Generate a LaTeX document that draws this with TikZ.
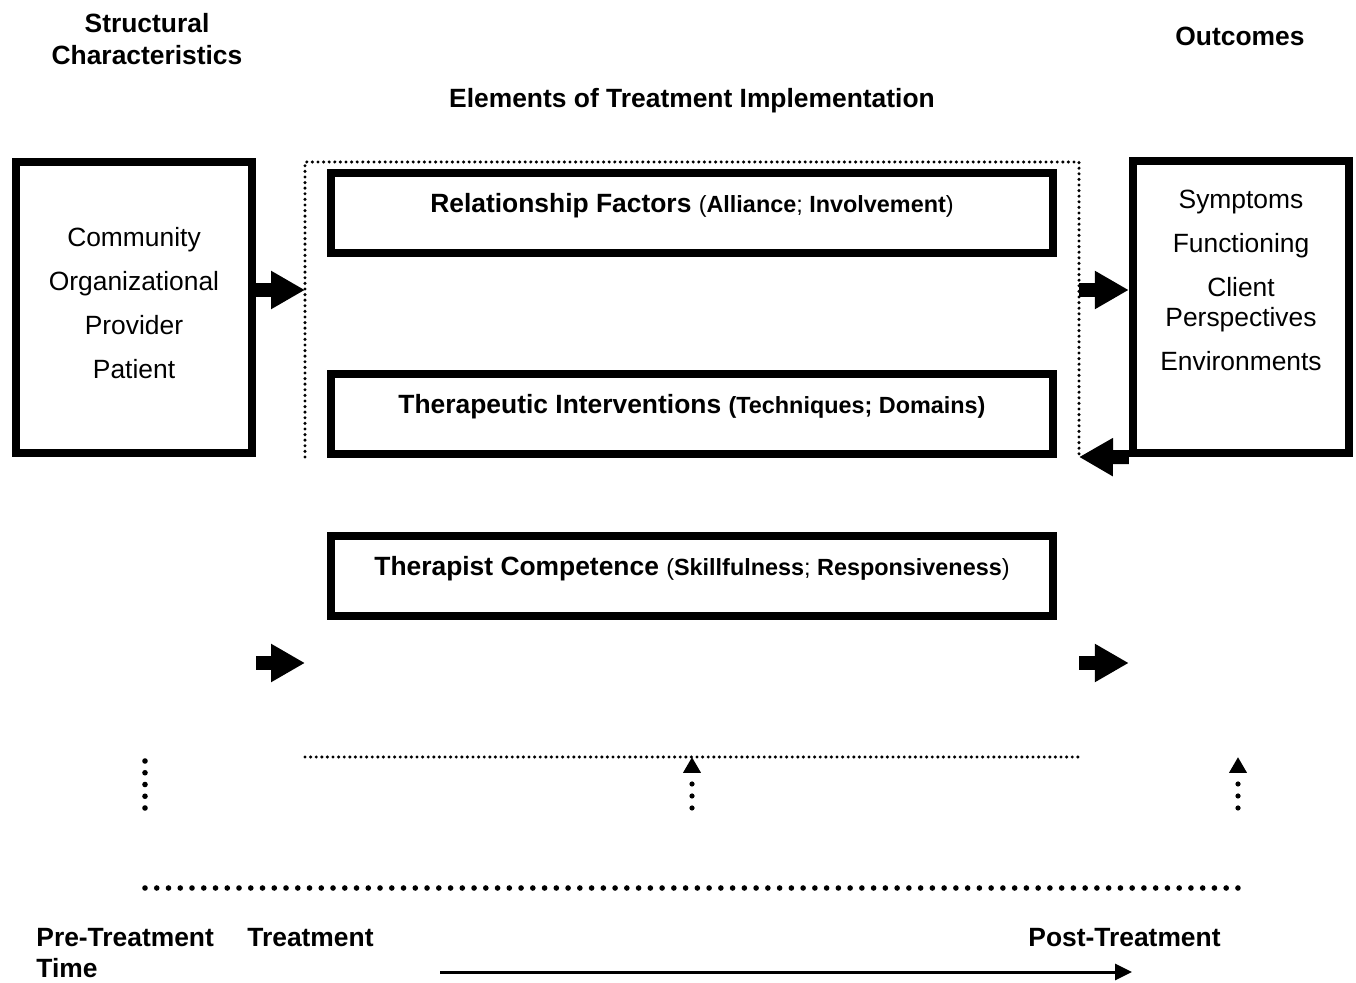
\documentclass[tikz,border=0pt]{standalone}
\usepackage{fontspec}
\setmainfont{Liberation Sans}
\usetikzlibrary{arrows.meta}
\newcommand{\subtxt}[1]{{\fontsize{11.7}{14}\selectfont #1}}

\begin{document}
\begin{tikzpicture}[x=0.5pt, y=-0.5pt,
		txt/.style={font=\fontsize{13.2}{15}\selectfont, inner sep=0pt},
		hd/.style={txt, font=\fontsize{13.2}{16}\selectfont\bfseries},
		outbox/.style={draw, line width=4.2pt, inner sep=0pt},
		implbox/.style={outbox, minimum width=361pt, minimum height=40pt, text height=10pt, text depth=10pt, font=\fontsize{13.2}{15}\selectfont},
		blockarrow/.style={line width=7pt, -{Triangle[length=17pt, width=18pt]}},
		finedots/.style={line width=1.7pt, line cap=round, dash pattern=on 0pt off 2.8pt},
		bigdots/.style={line width=2.8pt, line cap=round, dash pattern=on 0pt off 5.876pt},
		dotarrow/.style={bigdots, line width=2.6pt, dash pattern=on 0pt off 6pt, -{Triangle[length=8pt, width=8.5pt]}},
		timearrow/.style={line width=1.5pt, -{Triangle[length=8.5pt, width=8pt]}}]
	\useasboundingbox (0,0) rectangle (1356,983);
	% headings
	\node[hd, anchor=north, align=center] (structhd) at (147,12.5) {Structural\\Characteristics};
	\node[hd, anchor=base] (outchd) at (1240,45.5) {Outcomes};
	\node[hd, anchor=base] (implhd) at (692,107.5) {Elements of Treatment Implementation};
	% boxes
	\node[outbox, minimum width=118pt, minimum height=145.5pt] (struct) at (134,307.5) {};
	\node[txt, anchor=north, align=center, font=\fontsize{13.2}{22}\selectfont] (structtxt) at (134,227) {Community\\Organizational\\Provider\\Patient};
	\node[outbox, minimum width=108pt, minimum height=146pt] (outc) at (1241,307) {};
	\node[txt, anchor=north, align=center] (outctxt) at (1241,189.5) {Symptoms\\[7pt]Functioning\\[7pt]Client\\Perspectives\\[7pt]Environments};
	\node[minimum width=387pt, minimum height=147.5pt, inner sep=0pt, outer sep=0pt] (impl) at (692,309.5) {};
	\draw[finedots] (impl.south west) -- (impl.north west) -- (impl.north east) -- (impl.south east);
	\node[implbox] (rel) at (692,213) {\textbf{Relationship Factors} \subtxt{(\textbf{Alliance}; \textbf{Involvement})}};
	\node[implbox] (ther) at (692,414) {\textbf{Therapeutic Interventions} \subtxt{\textbf{(Techniques; Domains)}}};
	\node[implbox] (comp) at (692,576) {\textbf{Therapist Competence} \subtxt{(\textbf{Skillfulness}; \textbf{Responsiveness})}};
	% arrows
	\draw[blockarrow] (struct.east |- 0,290) -- (impl.west |- 0,290);
	\draw[blockarrow] (impl.east |- 0,290) -- (outc.west |- 0,290);
	\draw[blockarrow] (outc.south west) -- (impl.south east);
	\draw[blockarrow] (struct.east |- 0,663) -- (impl.west |- 0,663);
	\draw[blockarrow] (impl.east |- 0,663) -- (outc.west |- 0,663);
	% time line
	\coordinate (pre) at (145,808);
	\coordinate (mid) at (692,808);
	\coordinate (post) at (1238,808);
	\draw[bigdots] (pre) -- ++(0,-48);
	\draw[finedots] (impl.west |- 0,757) -- (impl.east |- 0,757);
	\draw[dotarrow] (mid) -- ++(0,-51);
	\draw[dotarrow] (post) -- ++(0,-51);
	\draw[bigdots] ([yshift=-40pt]pre) -- ([yshift=-40pt]post);
	\node[hd, anchor=north west, align=left, font=\fontsize{13.2}{15.5}\selectfont\bfseries] (pretxt) at (36,927.5) {Pre-Treatment\\Time};
	\node[hd, anchor=base west] (treattxt) at (247,946.5) {Treatment};
	\node[hd, anchor=base west] (posttxt) at (1028,946.5) {Post-Treatment};
	\coordinate (tstart) at (440,972);
	\coordinate (tend) at (1132,972);
	\draw[timearrow] (tstart) -- (tend);
\end{tikzpicture}
\end{document}
